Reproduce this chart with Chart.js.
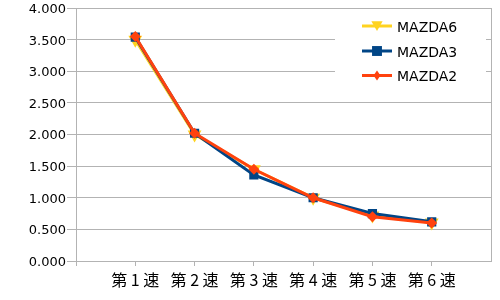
<!DOCTYPE html>
<html><head><meta charset="utf-8">
<script src="https://cdn.jsdelivr.net/npm/chart.js@4"></script>
<style>html,body{margin:0;padding:0;background:#fff}#wrap{width:500px;height:300px}</style>
</head><body><div id="wrap"><canvas id="c" width="500" height="300"></canvas></div>
<script>
const categories = ['第 1 速','第 2 速','第 3 速','第 4 速','第 5 速','第 6 速'];
const seriesNames = ['MAZDA6','MAZDA3','MAZDA2'];
const mazda6 = [3.50, 2.00, 1.45, 1.00, 0.72, 0.61];
const mazda3 = [3.54, 2.02, 1.36, 1.00, 0.75, 0.62];
const mazda2 = [3.55, 2.02, 1.45, 1.00, 0.70, 0.60];
const yTicks = [0, 0.5, 1, 1.5, 2, 2.5, 3, 3.5, 4];

const colors = ['#ffd320', '#004586', '#ff420e'];
const styles = ['triangle', 'rect', 'rectRot'];
const radii = [8, 6.5, 5.5];
const GRID = '#b3b3b3';
const TR = 'rgba(0,0,0,0)';

const labels = ['', ...categories, ''];
const pad = arr => [null, ...arr, null];
const seriesData = [mazda6, mazda3, mazda2];

const datasets = seriesNames.map((name, i) => ({
  label: name,
  data: pad(seriesData[i]),
  borderColor: colors[i],
  backgroundColor: colors[i],
  pointBackgroundColor: colors[i],
  pointBorderColor: colors[i],
  pointBorderWidth: 0,
  pointStyle: styles[i],
  pointRotation: i === 0 ? 180 : 0,
  pointRadius: radii[i],
  borderWidth: 3,
  tension: 0,
  order: 3 - i
}));

function drawMarker(ctx, style, x, y, r) {
  ctx.beginPath();
  if (style === 'triangle') {
    ctx.moveTo(x - r * 0.866, y - r * 0.5);
    ctx.lineTo(x + r * 0.866, y - r * 0.5);
    ctx.lineTo(x, y + r);
  } else if (style === 'rect') {
    const s = r * Math.SQRT1_2;
    ctx.rect(x - s, y - s, 2 * s, 2 * s);
  } else {
    ctx.moveTo(x, y - r); ctx.lineTo(x + r * 0.7, y); ctx.lineTo(x, y + r); ctx.lineTo(x - r * 0.7, y);
  }
  ctx.closePath();
  ctx.fill();
}

const legendPlugin = {
  id: 'innerLegend',
  afterDraw(chart) {
    const ctx = chart.ctx;
    ctx.save();
    ctx.fillStyle = '#fff';
    ctx.fillRect(335, 11, 151, 80);
    const lineYs = [26, 51, 75.5];
    const baseYs = [32, 56.5, 81];
    seriesNames.forEach((name, i) => {
      ctx.strokeStyle = colors[i];
      ctx.fillStyle = colors[i];
      ctx.lineWidth = 3;
      ctx.beginPath();
      ctx.moveTo(362, lineYs[i]);
      ctx.lineTo(392, lineYs[i]);
      ctx.stroke();
      drawMarker(ctx, styles[i], 377, lineYs[i] + (i === 0 ? -1.5 : 0), i === 0 ? 6.5 : (i === 1 ? 7 : 5));
      ctx.fillStyle = '#000';
      ctx.font = '14px "DejaVu Sans"';
      ctx.textBaseline = 'alphabetic';
      ctx.textAlign = 'left';
      ctx.fillText(name, 397, baseYs[i]);
    });
    ctx.restore();
  }
};

new Chart(document.getElementById('c'), {
  type: 'line',
  data: { labels, datasets },
  plugins: [legendPlugin],
  options: {
    responsive: false,
    animation: false,
    devicePixelRatio: 1,
    layout: { padding: { top: 7, right: 9, left: 0, bottom: 0 } },
    plugins: { legend: { display: false }, tooltip: { enabled: false } },
    scales: {
      x: {
        type: 'category',
        offset: false,
        afterFit: s => { s.height = 39; },
        grid: {
          display: true,
          drawOnChartArea: true,
          color: c => c.index === 7 ? GRID : TR,
          tickColor: c => c.index === 7 ? TR : GRID,
          tickLength: 5,
          lineWidth: 1
        },
        border: { display: true, color: GRID, width: 1 },
        ticks: {
          autoSkip: false,
          maxRotation: 0,
          minRotation: 0,
          padding: 4,
          color: '#000',
          font: { family: '"Noto Sans CJK JP", "DejaVu Sans"', size: 16, lineHeight: 1.2 }
        }
      },
      y: {
        min: 0,
        max: 4,
        afterFit: s => { s.width = 76; },
        afterBuildTicks: s => { s.ticks = yTicks.map(v => ({ value: v })); },
        grid: { color: GRID, tickColor: GRID, tickLength: 9, lineWidth: 1 },
        border: { display: true, color: GRID, width: 1 },
        ticks: {
          padding: 1,
          labelOffset: 1.5,
          color: '#000',
          font: { family: '"DejaVu Sans"', size: 13, lineHeight: 1 },
          callback: v => Number(v).toFixed(3)
        }
      }
    }
  }
});
</script>
</body></html>
